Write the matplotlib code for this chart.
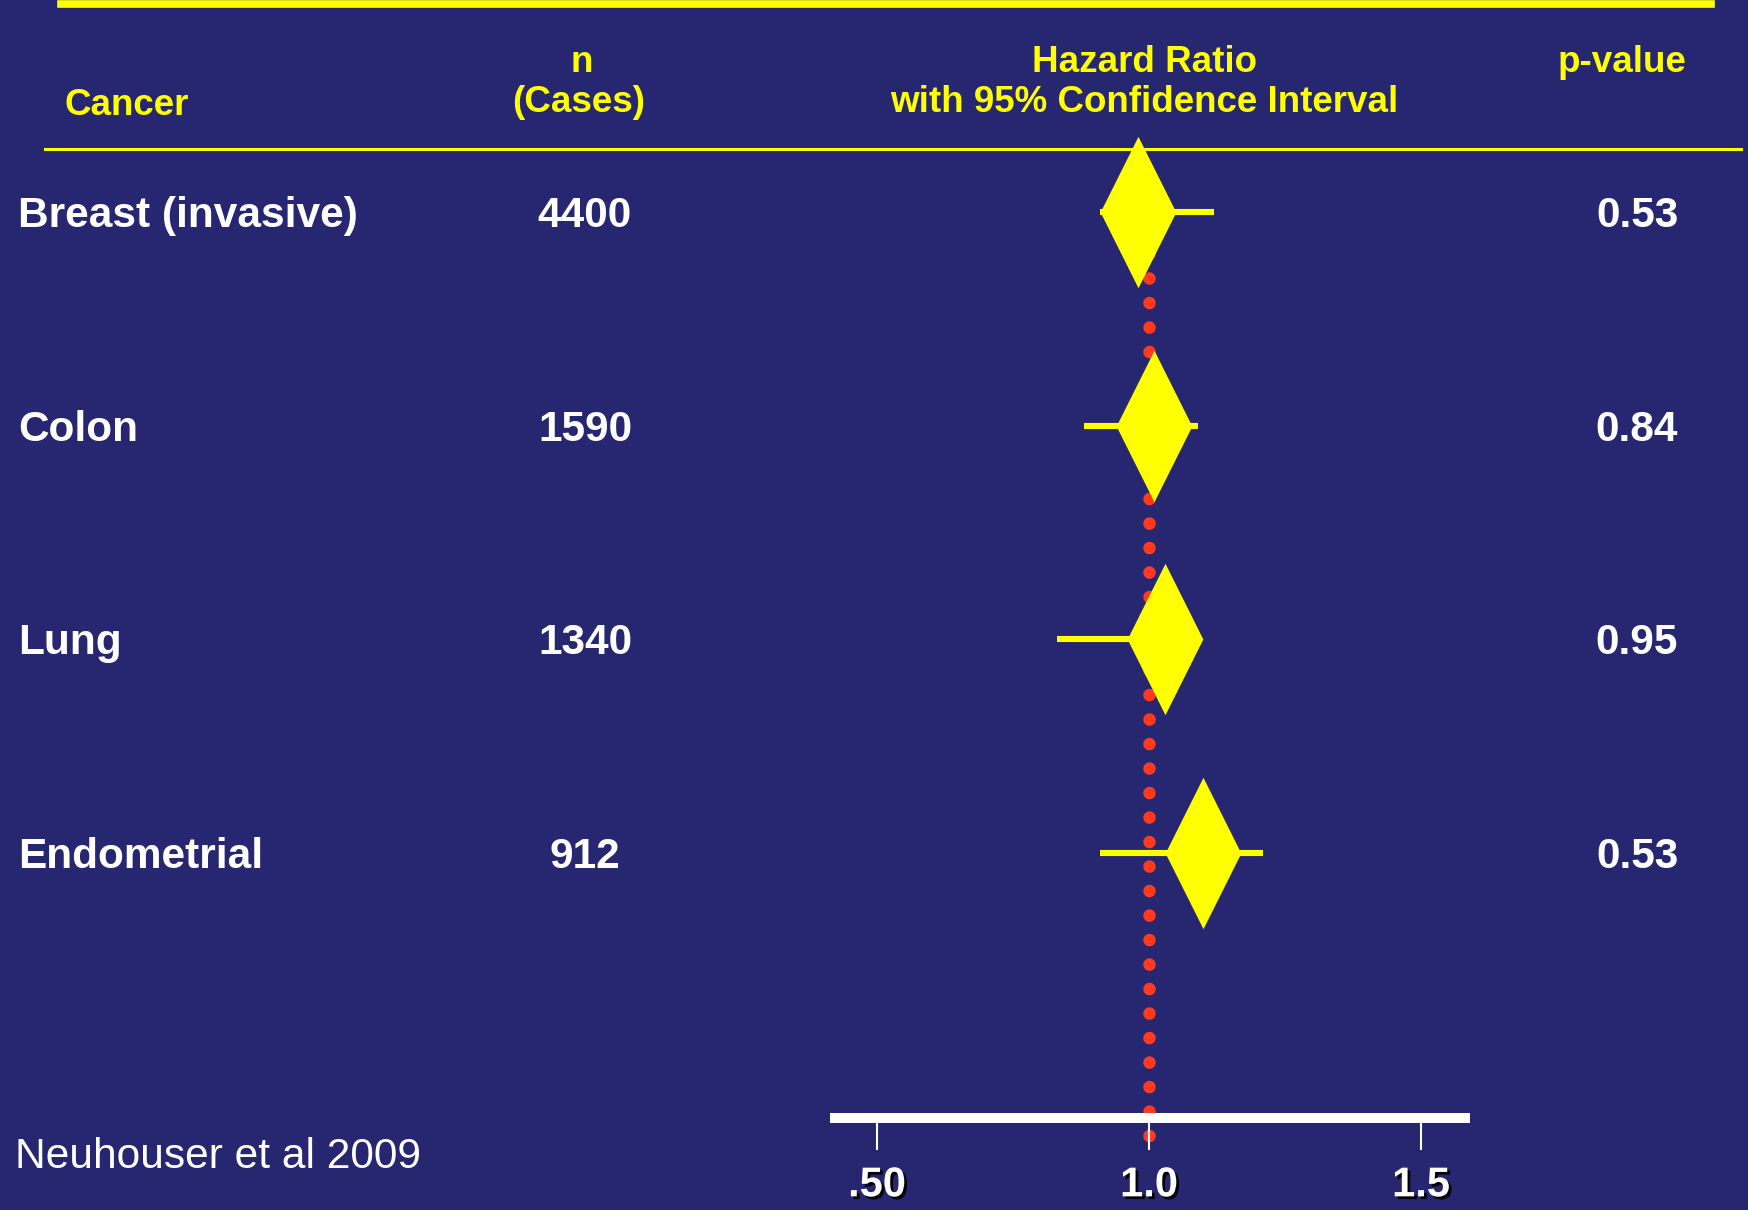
import matplotlib.pyplot as plt
import matplotlib.transforms as mtransforms
import matplotlib.patheffects as pe
from matplotlib.lines import Line2D

# forest plot data
cancers = ["Breast (invasive)", "Colon", "Lung", "Endometrial"]
cases = ["4400", "1590", "1340", "912"]
hr = [0.98, 1.01, 1.03, 1.10]
ci_low = [0.91, 0.88, 0.83, 0.91]
ci_high = [1.12, 1.09, 1.06, 1.21]
p_values = ["0.53", "0.84", "0.95", "0.53"]
tick_vals = [0.5, 1.0, 1.5]
tick_labels = [".50", "1.0", "1.5"]

plt.rcParams['font.family'] = ['Liberation Sans', 'DejaVu Sans']

W, H = 1748, 1210
bg = '#272771'
yellow = '#FFFF00'
red = '#FF3A1E'

fig = plt.figure(figsize=(W / 100, H / 100), dpi=100, facecolor=bg)
ax = fig.add_axes([830 / W, 0, 640 / W, 1])
ax.set_facecolor('none')
ax.set_xlim(0.4136, 1.590)
ax.set_ylim(4.670, -0.992)
rows = list(range(len(cancers)))

# reference line at HR = 1 (round dots)
ax.plot([1.0, 1.0], [-0.15, 4.33], color=red, lw=9, ls=(0, (0.01, 1.95)),
        dash_capstyle='round', zorder=1)

# confidence intervals and diamonds
ax.hlines(rows, ci_low, ci_high, color=yellow, lw=4.4, zorder=2)
diamond = [(0, 1), (0.5, 0), (0, -1), (-0.5, 0), (0, 1)]
ax.plot(hr, rows, ls='none', marker=diamond, ms=109, color=yellow,
        mec=yellow, mew=0, zorder=3)

# bottom axis
for side in ['top', 'left', 'right']:
    ax.spines[side].set_visible(False)
ax.spines['bottom'].set_position(('data', 4.24))
ax.spines['bottom'].set_color('white')
ax.spines['bottom'].set_linewidth(7.2)
ax.spines['bottom'].set_capstyle('butt')
ax.set_yticks([])
ax.set_xticks(tick_vals, tick_labels)
ax.tick_params(axis='x', direction='out', length=23, width=1.5, color='white',
               pad=11, labelcolor='white', labelsize=30)
for lbl in ax.get_xticklabels():
    lbl.set_fontweight('bold')
    lbl.set_path_effects([pe.SimplePatchShadow(offset=(2, -2), shadow_rgbFace='black', alpha=0.9),
                          pe.Normal()])

# row texts
trans = mtransforms.blended_transform_factory(fig.transFigure, ax.transData)
text_trans = mtransforms.offset_copy(trans, fig=fig, x=0, y=-15, units='dots')
for i in rows:
    ax.text(18 / W, i, cancers[i], transform=text_trans, color='white',
            fontsize=30.5, fontweight='bold', ha='left', va='baseline')
    ax.text(585 / W, i, cases[i], transform=text_trans, color='white',
            fontsize=30.5, fontweight='bold', ha='center', va='baseline')
    ax.text(1637 / W, i, p_values[i], transform=text_trans, color='white',
            fontsize=30.5, fontweight='bold', ha='center', va='baseline')

# header
hdr = dict(color=yellow, fontsize=26.5, fontweight='bold', va='baseline')
fig.text(65 / W, 1 - 115 / H, "Cancer", ha='left', **hdr)
fig.text(582 / W, 1 - 72 / H, "n", ha='center', **hdr)
fig.text(579 / W, 1 - 112 / H, "(Cases)", ha='center', **hdr)
fig.text(1144 / W, 1 - 72 / H, "Hazard Ratio", ha='center', **hdr)
fig.text(1144 / W, 1 - 112 / H, "with 95% Confidence Interval", ha='center', **hdr)
fig.text(1622 / W, 1 - 72 / H, "p-value", ha='center', **hdr)

fig.add_artist(Line2D([61 / W, 1711 / W], [1 - 4 / H, 1 - 4 / H], color=yellow, lw=5.5))
fig.add_artist(Line2D([45 / W, 1741 / W], [1 - 149 / H, 1 - 149 / H], color=yellow, lw=2.2))

fig.text(15 / W, 1 - 1168 / H, "Neuhouser et al 2009", color='white', fontsize=30.6,
         ha='left', va='baseline')

fig.savefig('out.png', dpi=100, facecolor=fig.get_facecolor())
